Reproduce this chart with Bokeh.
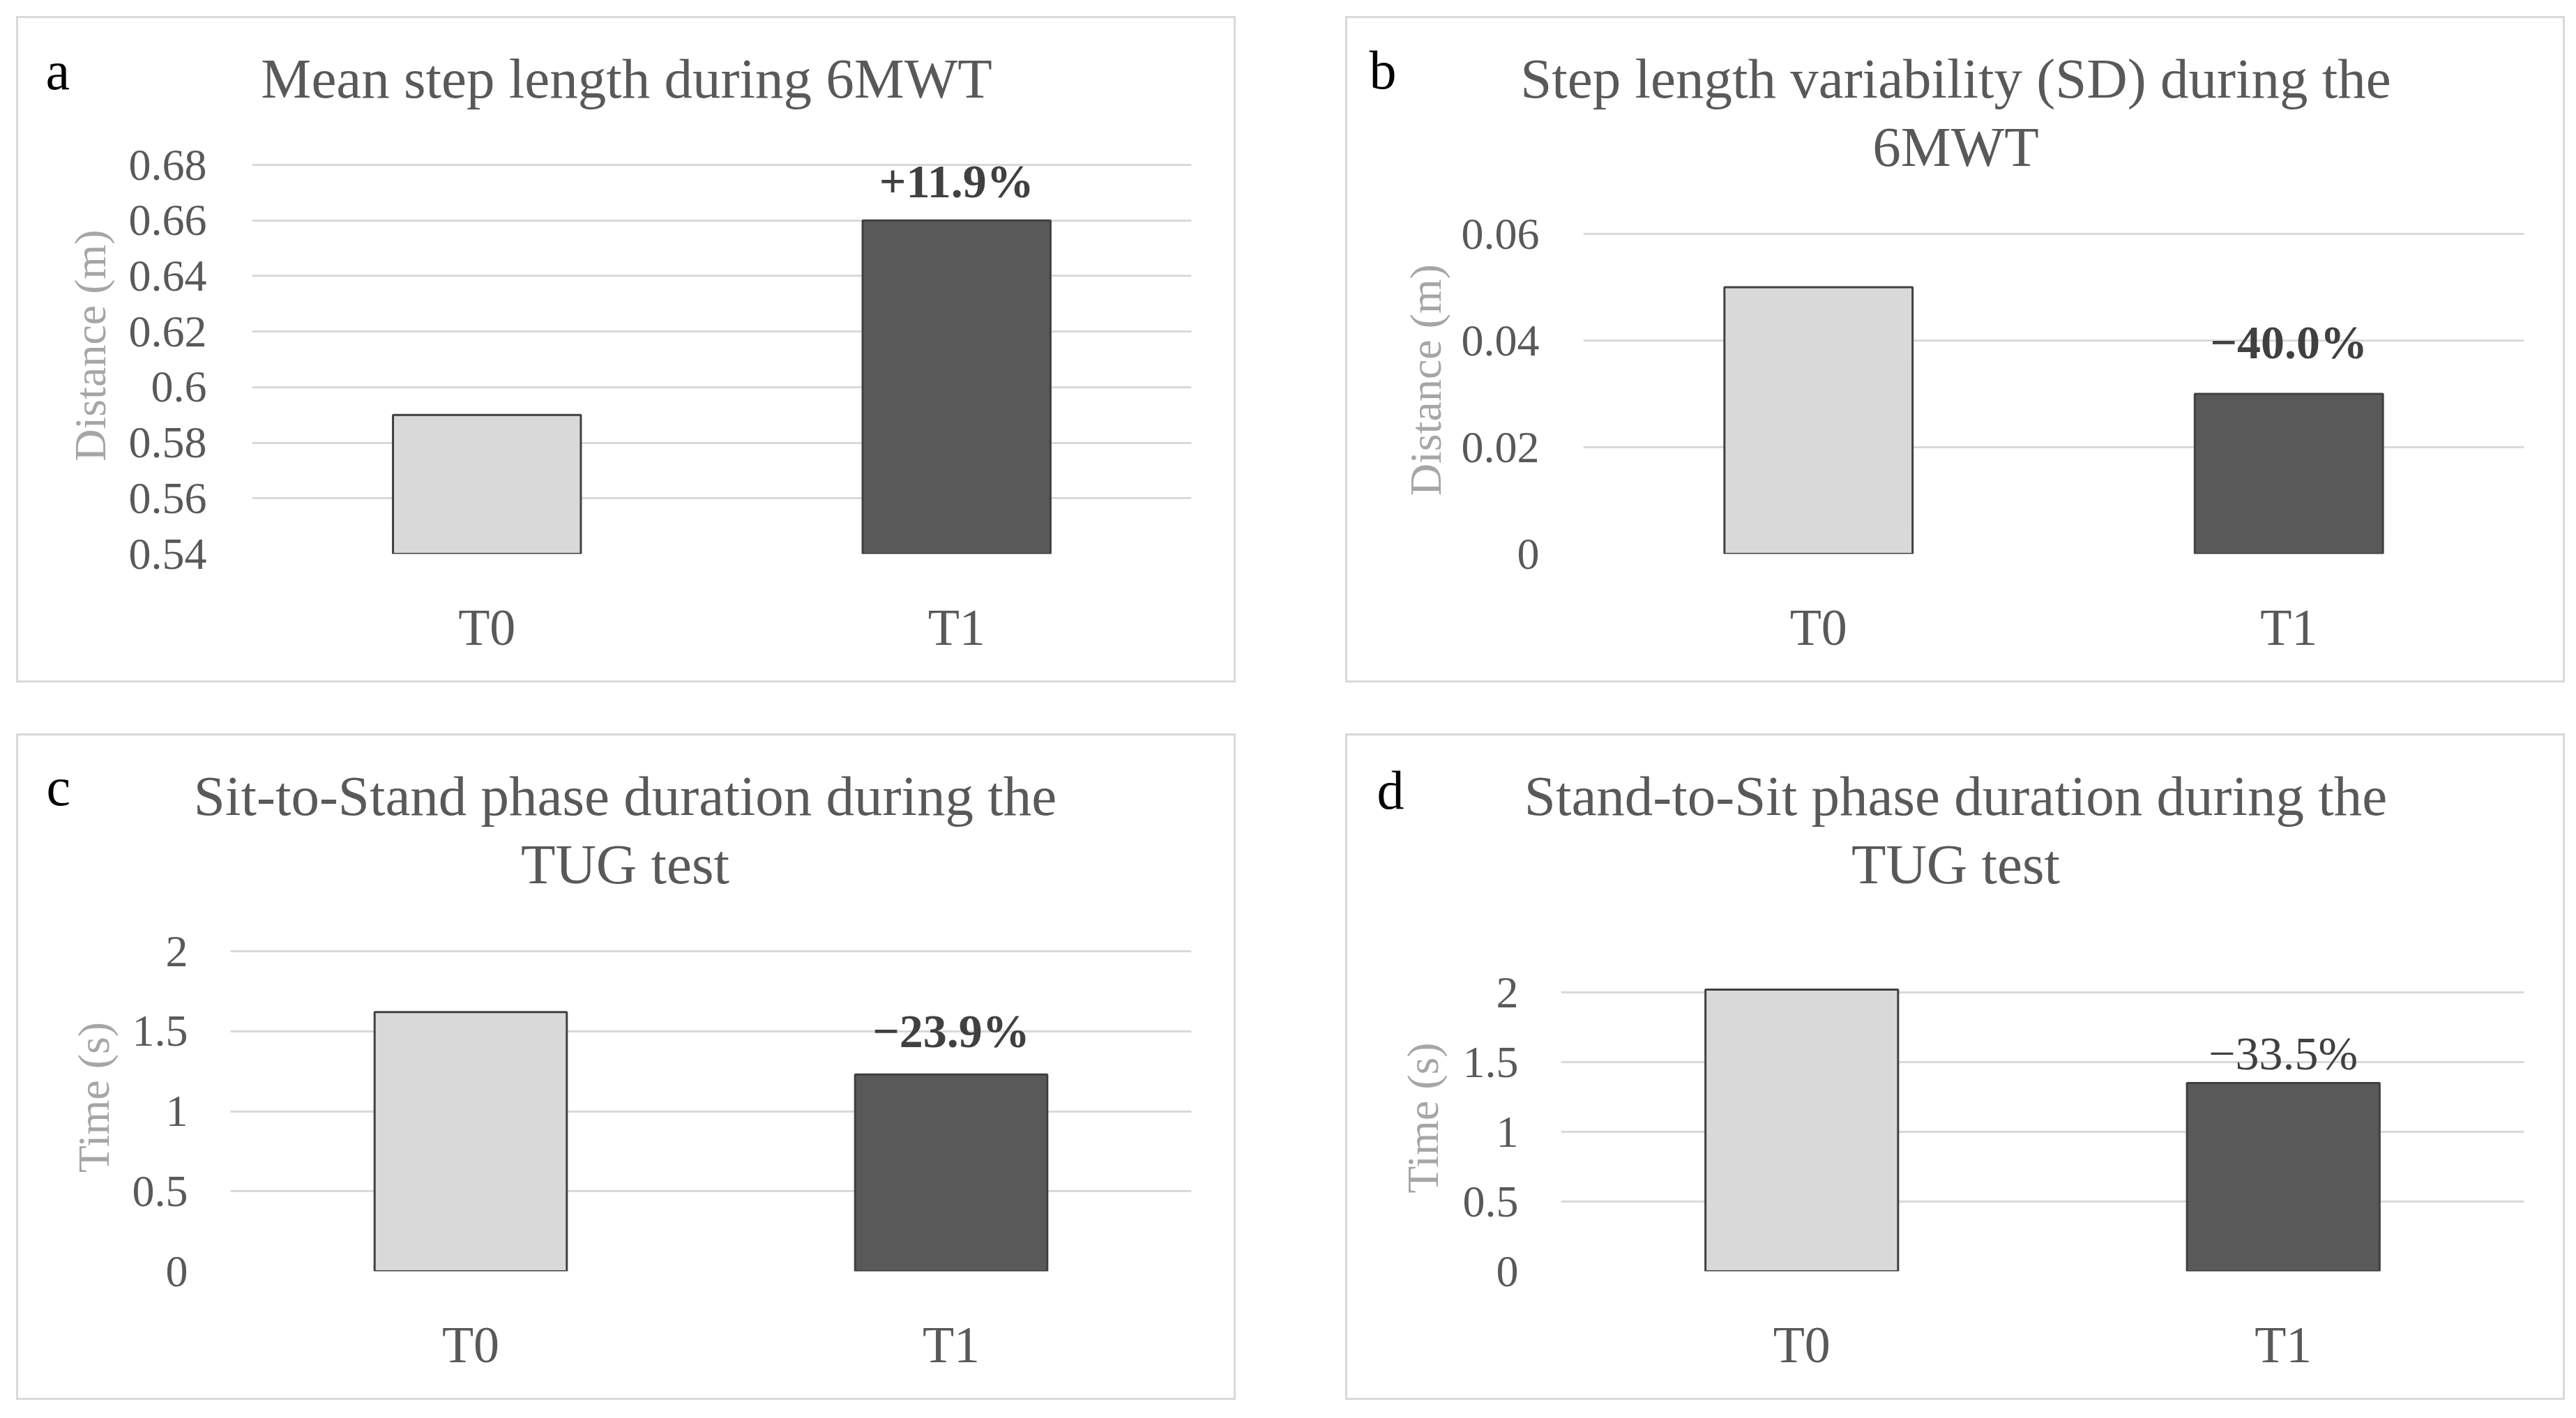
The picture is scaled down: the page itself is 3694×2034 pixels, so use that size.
from bokeh.plotting import figure
from bokeh.models import (ColumnDataSource, Range1d, FactorRange, FixedTicker,
                          CustomJSTickFormatter, Label, Spacer)
from bokeh.layouts import column, row
from bokeh.embed import file_html
from bokeh.resources import INLINE

# ---------------- data ----------------
categories = ["T0", "T1"]
bar_colors = ["#d9d9d9", "#595959"]

a_values = [0.59, 0.66]
a_ticks = [0.54, 0.56, 0.58, 0.60, 0.62, 0.64, 0.66, 0.68]
a_tick_labels = ["0.54", "0.56", "0.58", "0.6", "0.62", "0.64", "0.66", "0.68"]
a_change = "+11.9%"

b_values = [0.05, 0.03]
b_ticks = [0.0, 0.02, 0.04, 0.06]
b_tick_labels = ["0", "0.02", "0.04", "0.06"]
b_change = "\u221240.0%"

c_values = [1.62, 1.23]
c_ticks = [0.0, 0.5, 1.0, 1.5, 2.0]
c_tick_labels = ["0", "0.5", "1", "1.5", "2"]
c_change = "\u221223.9%"

d_values = [2.02, 1.35]
d_ticks = [0.0, 0.5, 1.0, 1.5, 2.0]
d_tick_labels = ["0", "0.5", "1", "1.5", "2"]
d_change = "\u221233.5%"

FONT = "Liberation Serif"
W, H = 1743, 950
PAD = 40
LETTER_SIZE, TITLE_SIZE = 78, 81
BASE_SHIFT = 0.36  # empirical baseline correction (fraction of font size)

FMT_CODE = """
let best = 0;
for (let i = 0; i < tv.length; i++) {
  if (Math.abs(tv[i] - tick) < Math.abs(tv[best] - tick)) best = i;
}
return tl[best];
"""


def make_panel(letter, letter_xy, title_lines, ylabel, ylabel_standoff,
               values, ticks, tick_labels, change, change_gap, change_bold,
               frame, tick_standoff):
    L, R, T, B = frame
    Hh = T - PAD

    # ---- header (panel letter + title) ----
    hdr = figure(width=W, height=Hh, x_range=Range1d(0, W), y_range=Range1d(Hh, 0),
                 x_axis_type=None, y_axis_type=None, output_backend="svg",
                 toolbar_location=None, min_border=0)
    hdr.title.visible = False
    hdr.outline_line_color = None
    hdr.background_fill_color = "white"
    hdr.border_fill_color = "white"
    hdr.add_layout(Label(x=letter_xy[0], y=letter_xy[1] - BASE_SHIFT * LETTER_SIZE,
                         text=letter, text_font=FONT,
                         text_font_size=f"{LETTER_SIZE}px",
                         text_color="black", text_baseline="alphabetic",
                         text_align="left"))
    for (tx, ty, txt) in title_lines:
        hdr.add_layout(Label(x=tx, y=ty - BASE_SHIFT * TITLE_SIZE, text=txt,
                             text_font=FONT, text_font_size=f"{TITLE_SIZE}px",
                             text_color="#595959", text_baseline="alphabetic",
                             text_align="center"))

    # ---- chart ----
    y0, y1 = ticks[0], ticks[-1]
    y_top = y1 + PAD * (y1 - y0) / (B - T)
    p = figure(width=W, height=H - Hh, x_range=FactorRange(*categories),
               y_range=Range1d(y0, y_top), output_backend="svg",
               toolbar_location=None, min_border_left=L, min_border_right=W - R,
               min_border_top=0, min_border_bottom=H - B)
    p.title.visible = False
    p.outline_line_color = None
    p.background_fill_color = "white"
    p.border_fill_color = "white"

    src = ColumnDataSource(dict(x=categories, top=values, color=bar_colors))
    p.vbar(x="x", top="top", bottom=y0, width=0.4, source=src,
           fill_color="color", line_color="#404040", line_width=3)

    p.xgrid.grid_line_color = None
    p.ygrid.grid_line_color = "#d9d9d9"
    p.ygrid.grid_line_width = 3
    p.ygrid.level = "underlay"

    p.yaxis.ticker = FixedTicker(ticks=ticks)
    p.yaxis.formatter = CustomJSTickFormatter(
        args=dict(tv=ticks, tl=tick_labels), code=FMT_CODE)
    for ax in (p.xaxis, p.yaxis):
        ax.axis_line_color = None
        ax.major_tick_line_color = None
        ax.minor_tick_line_color = None
        ax.major_label_text_font = FONT
        ax.major_label_text_color = "#595959"
    p.yaxis.major_label_text_font_size = "64px"
    p.yaxis.major_label_standoff = tick_standoff
    p.xaxis.major_label_text_font_size = "74px"
    p.xaxis.major_label_standoff = 58

    p.yaxis.axis_label = ylabel
    p.yaxis.axis_label_text_font = FONT
    p.yaxis.axis_label_text_font_size = "64px"
    p.yaxis.axis_label_text_font_style = "normal"
    p.yaxis.axis_label_text_color = "#a6a6a6"
    p.yaxis.axis_label_standoff = ylabel_standoff

    # change annotation above T1 bar
    p.add_layout(Label(x=1.5, y=values[1], y_offset=change_gap, text=change,
                       text_font=FONT, text_font_size="68px",
                       text_font_style="bold" if change_bold else "normal",
                       text_color="#404040", text_baseline="alphabetic",
                       text_align="center"))

    return column(row(hdr), p, spacing=0,
                  styles={"outline": "3px solid #d9d9d9"})


pa = make_panel("a", (39, 103), [(872, 116, "Mean step length during 6MWT")],
                "Distance (m)", 17, a_values, a_ticks, a_tick_labels,
                a_change, 56, True, (335, 1682, 210, 768), 59)
pb = make_panel("b", (31, 102),
                [(872, 116, "Step length variability (SD) during the"),
                 (872, 214, "6MWT")],
                "Distance (m)", 13, b_values, b_ticks, b_tick_labels,
                b_change, 74, True, (338, 1687, 309, 768), 57)
pc = make_panel("c", (40, 101),
                [(870, 116, "Sit-to-Stand phase duration during the"),
                 (870, 214, "TUG test")],
                "Time (s)", 17, c_values, c_ticks, c_tick_labels,
                c_change, 62, True, (304, 1682, 309, 768), 55)
pd_ = make_panel("d", (42, 106),
                 [(872, 116, "Stand-to-Sit phase duration during the"),
                  (872, 214, "TUG test")],
                 "Time (s)", 19, d_values, d_ticks, d_tick_labels,
                 d_change, 43, False, (306, 1687, 368, 768), 55)

layout = column(
    Spacer(width=3600, height=26),
    row(Spacer(width=26, height=H), pa, Spacer(width=163, height=H), pb),
    Spacer(width=3600, height=79),
    row(Spacer(width=26, height=H), pc, Spacer(width=163, height=H), pd_),
)

open("out.html", "w").write(file_html(layout, INLINE))
